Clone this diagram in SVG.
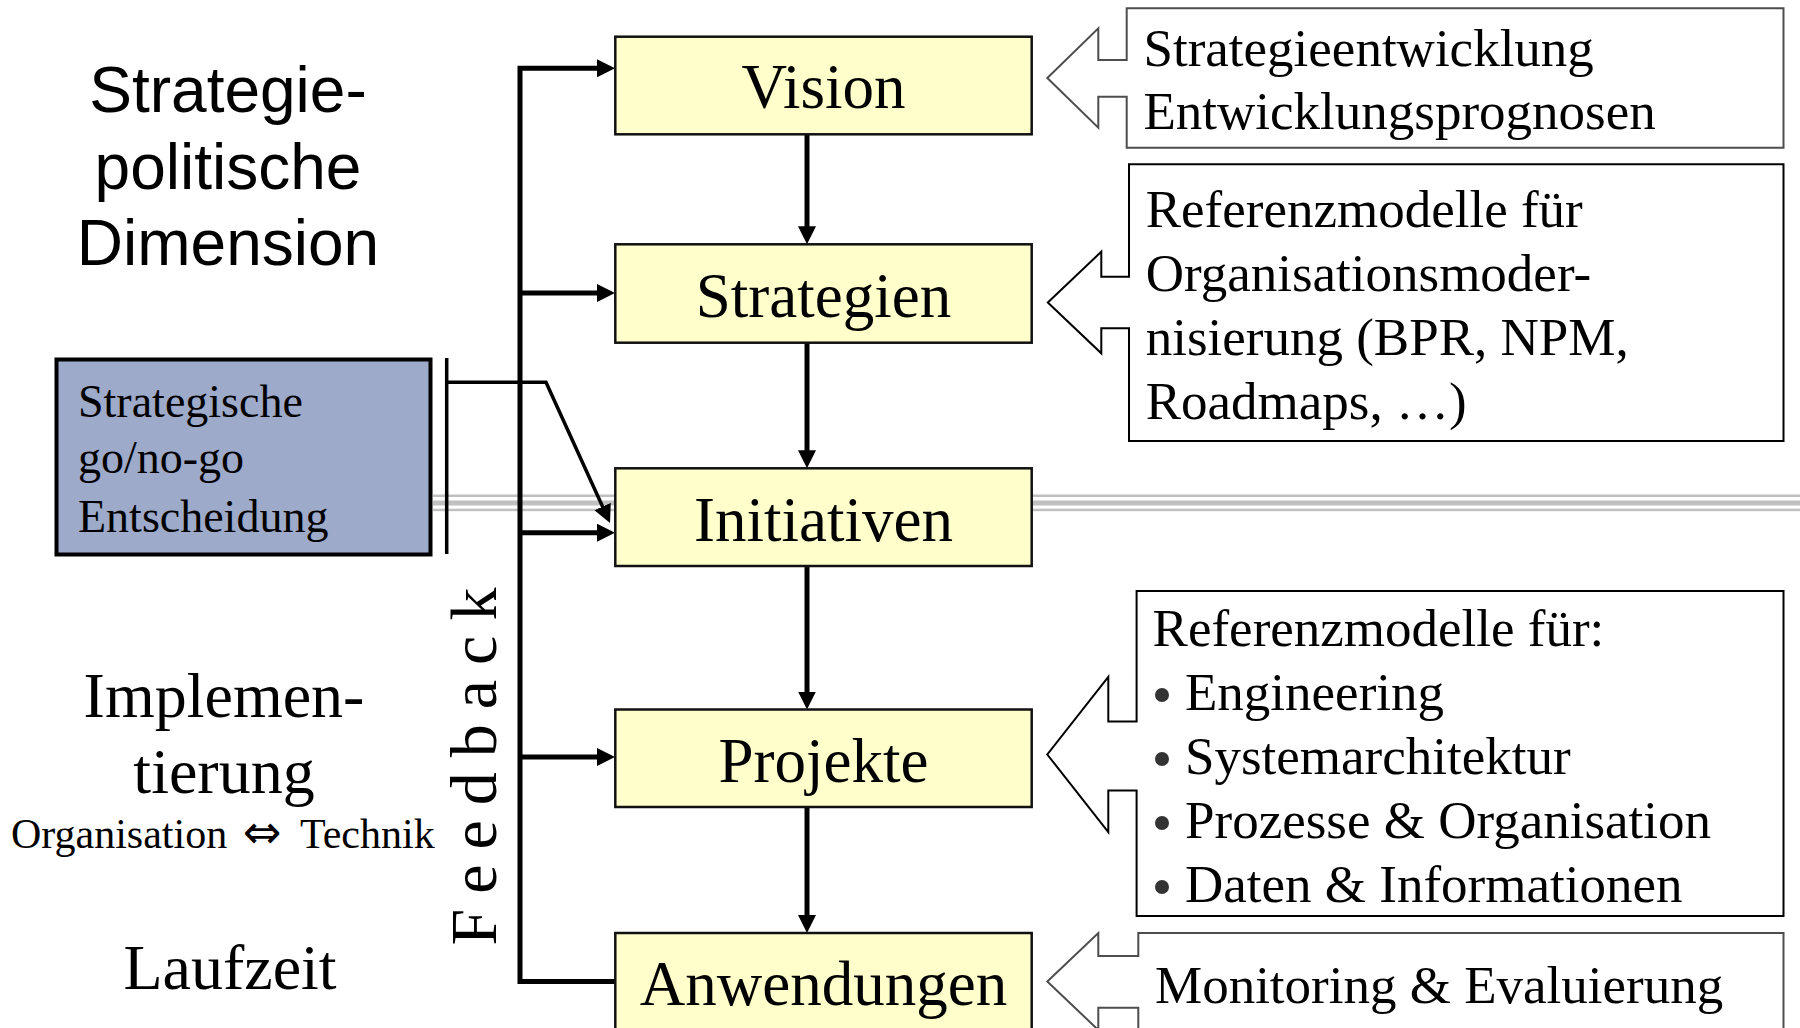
<svg xmlns="http://www.w3.org/2000/svg" width="1800" height="1028" viewBox="0 0 1800 1028">
  <style>
    .serif { font-family: "Liberation Serif", "Times New Roman", serif; fill: #000; }
    .sans { font-family: "Liberation Sans", Arial, sans-serif; fill: #000; }
    .step { fill: #ffffcc; stroke: #111; stroke-width: 2.5; }
    .step-label { font-size: 63px; text-anchor: middle; }
    .note { font-size: 53px; }
    .dim { font-size: 64px; text-anchor: middle; }
    .flow { stroke: #000; stroke-width: 5; fill: none; }
    .thin { stroke: #000; stroke-width: 3.5; fill: none; }
    .callout { fill: #fff; stroke-width: 2; }
    .dot { fill: #333; }
  </style>
  <defs>
    <marker id="head" markerUnits="userSpaceOnUse" markerWidth="18" markerHeight="18" refX="8" refY="9" orient="auto">
      <path d="M0,0 L18,9 L0,18 Z" fill="#000"/>
    </marker>
  </defs>

  <rect width="1800" height="1028" fill="#fff"/>

  <!-- phase separator -->
  <g id="separator" fill="#c0c0c0">
    <rect x="433" y="494.5" width="1367" height="2.5"/>
    <rect x="433" y="500.5" width="1367" height="5"/>
    <rect x="433" y="508.7" width="1367" height="2.5"/>
  </g>

  <!-- dimension labels on the left -->
  <g id="label-strategy">
    <text class="sans dim" x="228" y="111.7">Strategie-</text>
    <text class="sans dim" x="228" y="189.3">politische</text>
    <text class="sans dim" x="228" y="265">Dimension</text>
  </g>
  <g id="label-implementation">
    <text class="serif dim" x="224" y="717">Implemen-</text>
    <text class="serif dim" x="224" y="792.5">tierung</text>
    <text class="serif" font-size="42" y="848"><tspan x="11">Organisation</tspan><tspan x="243" font-family="'DejaVu Sans', sans-serif" font-size="46">⇔</tspan><tspan x="300">Technik</tspan></text>
  </g>
  <g id="label-runtime">
    <text class="serif dim" x="230" y="988.5">Laufzeit</text>
  </g>

  <!-- go / no-go decision -->
  <g id="decision">
    <rect x="56.5" y="359.5" width="374" height="195" fill="#9daac9" stroke="#000" stroke-width="4"/>
    <text class="serif" font-size="46" x="78" y="416.7">Strategische</text>
    <text class="serif" font-size="46" x="78" y="473.3">go/no-go</text>
    <text class="serif" font-size="46" x="78" y="531.7">Entscheidung</text>
  </g>

  <!-- connectors -->
  <g id="connectors">
    <!-- feedback bus -->
    <polyline class="flow" points="615,981.5 520,981.5 520,68.3 605,68.3" marker-end="url(#head)"/>
    <line class="flow" x1="520" y1="293" x2="605" y2="293" marker-end="url(#head)"/>
    <line class="flow" x1="520" y1="532.7" x2="605" y2="532.7" marker-end="url(#head)"/>
    <line class="flow" x1="520" y1="757" x2="605" y2="757" marker-end="url(#head)"/>
    <!-- main chain -->
    <line class="flow" x1="807" y1="134.3" x2="807" y2="234.3" marker-end="url(#head)"/>
    <line class="flow" x1="807" y1="342.7" x2="807" y2="458.3" marker-end="url(#head)"/>
    <line class="flow" x1="807" y1="566" x2="807" y2="699.5" marker-end="url(#head)"/>
    <line class="flow" x1="807" y1="807" x2="807" y2="923" marker-end="url(#head)"/>
    <!-- decision gate -->
    <line class="thin" x1="446.7" y1="358" x2="446.7" y2="554"/>
    <polyline class="thin" points="446.7,382.3 546,382.3 605.9,513.9" marker-end="url(#head)"/>
  </g>

  <!-- feedback caption -->
  <text id="feedback-label" class="serif" font-size="66" letter-spacing="15" transform="translate(496,945.5) rotate(-90)">Feedback</text>

  <!-- process steps -->
  <g id="vision">
    <rect class="step" x="615.3" y="36.7" width="416.4" height="97.6"/>
    <text class="serif step-label" x="823.5" y="108.3">Vision</text>
  </g>
  <g id="strategien">
    <rect class="step" x="615.3" y="244.3" width="416.4" height="98.4"/>
    <text class="serif step-label" x="823.5" y="317">Strategien</text>
  </g>
  <g id="initiativen">
    <rect class="step" x="615.3" y="468.3" width="416.4" height="97.7"/>
    <text class="serif step-label" x="823.5" y="540.7">Initiativen</text>
  </g>
  <g id="projekte">
    <rect class="step" x="615.3" y="709.5" width="416.4" height="97.5"/>
    <text class="serif step-label" x="823.5" y="781.5">Projekte</text>
  </g>
  <g id="anwendungen">
    <rect class="step" x="615.3" y="933" width="416.4" height="120"/>
    <text class="serif step-label" x="823.5" y="1004.5">Anwendungen</text>
  </g>

  <!-- input callouts -->
  <g id="callout-vision">
    <path class="callout" stroke="#4d4d4d" d="M1126.7,8.3 H1783.5 V147.7 H1126.7 V96.7 H1098.3 V127.7 L1047.3,78 L1098.3,28.3 V60 H1126.7 Z"/>
    <text class="serif note" x="1143.5" y="66">Strategieentwicklung</text>
    <text class="serif note" x="1143.5" y="128.5">Entwicklungsprognosen</text>
  </g>
  <g id="callout-strategien">
    <path class="callout" stroke="#000" d="M1129,164.3 H1783.5 V441 H1129 V328.3 H1101.3 V353.3 L1047.8,302.5 L1101.3,251.7 V276.7 H1129 Z"/>
    <text class="serif note" x="1145.7" y="227">Referenzmodelle für</text>
    <text class="serif note" x="1145.7" y="291">Organisationsmoder-</text>
    <text class="serif note" x="1145.7" y="355">nisierung (BPR, NPM,</text>
    <text class="serif note" x="1145.7" y="419">Roadmaps, …)</text>
  </g>
  <g id="callout-projekte">
    <path class="callout" stroke="#000" d="M1136.6,591 H1783.5 V916 H1136.6 V790.5 H1108.3 V832 L1047.3,754.5 L1108.3,677 V721.5 H1136.6 Z"/>
    <text class="serif note" x="1152.6" y="645.5">Referenzmodelle für:</text>
    <!-- list bullets -->
    <circle class="dot" cx="1162" cy="695" r="7"/>
    <circle class="dot" cx="1162" cy="759" r="7"/>
    <circle class="dot" cx="1162" cy="823" r="7"/>
    <circle class="dot" cx="1162" cy="887" r="7"/>
    <text class="serif note" x="1185" y="709.5">Engineering</text>
    <text class="serif note" x="1185" y="773.5">Systemarchitektur</text>
    <text class="serif note" x="1185" y="837.5">Prozesse &amp; Organisation</text>
    <text class="serif note" x="1185" y="901.5">Daten &amp; Informationen</text>
  </g>
  <g id="callout-anwendungen">
    <path class="callout" stroke="#4d4d4d" d="M1098.3,933 V956 H1138.3 V933 H1783.5 V1050 H1138.3 V1007.7 H1098.3 V1030 L1047.3,981.5 Z"/>
    <text class="serif note" x="1155" y="1002.5">Monitoring &amp; Evaluierung</text>
  </g>
</svg>
